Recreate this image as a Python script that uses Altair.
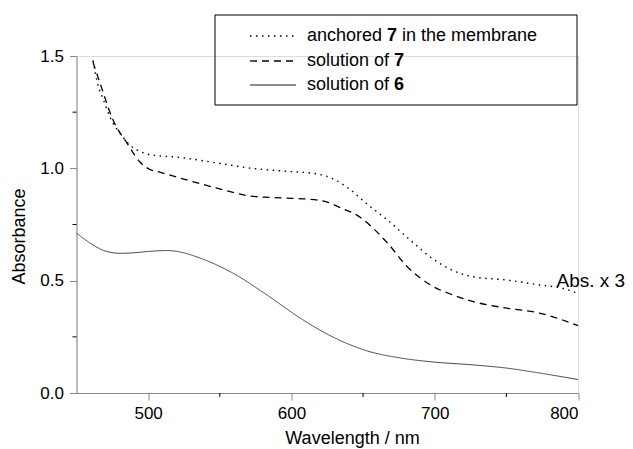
import altair as alt
import pandas as pd

FONT = "Liberation Sans"

# ---- data ----
anch_wl = [461.5, 465, 468.5, 473.4, 482.4, 487, 492, 498, 505, 520, 548, 571, 594, 618, 630, 640, 653, 667, 683, 697, 712, 728, 750, 773, 790, 800]
anch_ab = [1.48, 1.37, 1.31, 1.228, 1.139, 1.105, 1.083, 1.066, 1.057, 1.05, 1.024, 1.001, 0.988, 0.975, 0.95, 0.91, 0.84, 0.77, 0.68, 0.605, 0.547, 0.516, 0.503, 0.481, 0.465, 0.443]

sol7_wl = [461.5, 466.4, 475.5, 485.2, 494.3, 501.3, 508, 520, 548, 571, 594, 611, 625, 636, 643, 667, 681, 697, 713, 728, 750, 773, 800]
sol7_ab = [1.473, 1.38, 1.215, 1.113, 1.028, 0.995, 0.983, 0.961, 0.912, 0.877, 0.868, 0.863, 0.85, 0.819, 0.801, 0.668, 0.561, 0.481, 0.436, 0.405, 0.378, 0.356, 0.300]

sol6_wl = [450, 461.5, 470, 480, 490, 500, 513, 522, 536, 559, 583, 606, 629, 653, 676, 699, 727, 750, 773, 800]
sol6_ab = [0.712, 0.659, 0.632, 0.622, 0.624, 0.630, 0.634, 0.628, 0.601, 0.534, 0.436, 0.334, 0.249, 0.187, 0.156, 0.138, 0.125, 0.111, 0.089, 0.060]

x_major = [500, 600, 700, 800]
x_minor = [550, 650, 750]
y_major = [0.0, 0.5, 1.0, 1.5]
y_minor = [0.25, 0.75, 1.25]

annot_text = ["Abs. x 3"]
annot_wl = [785]
annot_ab = [0.50]

W, H = 501.5, 337

xs = alt.Scale(domain=[450, 800], nice=False, zero=False)
ys = alt.Scale(domain=[0, 1.5], nice=False, zero=False)

def curve(wl, ab, dash, width, color="black"):
    df = pd.DataFrame({"wl": wl, "ab": ab})
    m = alt.Chart(df).mark_line(color=color, strokeWidth=width, interpolate="monotone",
                                strokeDash=dash if dash else [1, 0])
    return m.encode(
        x=alt.X("wl:Q", scale=xs, axis=alt.Axis(
            title="Wavelength / nm", values=x_major, format="d", ticks=True, tickSize=7,
            labelPadding=5, titleX=275.5, titleY=45, titleBaseline="middle",
            titleFontSize=18, titleFontWeight="normal", labelFontSize=17,
            grid=False)),
        y=alt.Y("ab:Q", scale=ys, axis=alt.Axis(
            title="Absorbance", values=y_major, format=".1f", ticks=True, tickSize=7,
            labelPadding=6, titleX=-57.5, titleY=180, titleBaseline="middle",
            titleAngle=270, titleFontSize=18, titleFontWeight="normal",
            labelFontSize=17, grid=False)),
    )

l_anch = curve(anch_wl, anch_ab, [1.5, 4.5], 1.4)
l_sol7 = curve(sol7_wl, sol7_ab, [7, 5], 1.3)
l_sol6 = curve(sol6_wl, sol6_ab, None, 0.9, "#333333")

minor_x = alt.Chart(pd.DataFrame({"v": x_minor})).mark_rule(color="black", strokeWidth=1).encode(
    x=alt.X("v:Q", scale=xs), y=alt.value(H), y2=alt.value(H + 4))
minor_y = alt.Chart(pd.DataFrame({"v": y_minor})).mark_rule(color="black", strokeWidth=1).encode(
    y=alt.Y("v:Q", scale=ys), x=alt.value(0), x2=alt.value(-4))

annot = alt.Chart(pd.DataFrame({"t": annot_text, "wl": annot_wl, "ab": annot_ab})).mark_text(
    align="left", baseline="middle", font=FONT, fontSize=19, color="black").encode(
    x=alt.X("wl:Q", scale=xs), y=alt.Y("ab:Q", scale=ys), text="t:N")

one = pd.DataFrame({"k": [0]})

box = alt.Chart(one).mark_rect(fill="white", fillOpacity=0, stroke="black", strokeWidth=1).encode(
    x=alt.value(138.5), x2=alt.value(500.5), y=alt.value(-41), y2=alt.value(49))

rows_y = [-20, 5, 29]
dashes = [[1.5, 4.5], [7, 5], [1, 0]]
widths = [1.4, 1.3, 0.9]
leg_lines = []
for yy, d, w in zip(rows_y, dashes, widths):
    leg_lines.append(alt.Chart(one).mark_rule(color="black", strokeWidth=w, strokeDash=d).encode(
        x=alt.value(173.5), x2=alt.value(219.5), y=alt.value(yy)))

# legend label segments: (text, x, y, weight)
leg_text = [
    ("anchored", 230.5, -20, "normal"),
    ("7", 310.5, -20, "bold"),
    ("in the membrane", 325.5, -20, "normal"),
    ("solution of", 230.5, 5, "normal"),
    ("7", 317.5, 5, "bold"),
    ("solution of", 230.5, 29, "normal"),
    ("6", 317.5, 29, "bold"),
]
leg_texts = []
for t, xx, yy, wt in leg_text:
    leg_texts.append(alt.Chart(one).mark_text(
        align="left", baseline="middle", font=FONT, fontSize=18, fontWeight=wt,
        color="black", text=t).encode(x=alt.value(xx), y=alt.value(yy)))

chart = alt.layer(
    l_anch, l_sol7, l_sol6, minor_x, minor_y, annot, box, *leg_lines, *leg_texts
).properties(
    width=W, height=H,
    autosize=alt.AutoSizeParams(type="none"),
    padding={"left": 68.5, "top": 48, "right": 47, "bottom": 56},
).configure_view(stroke=None).configure_axis(
    domainColor="black", tickColor="black", labelColor="black", titleColor="black",
    labelFont=FONT, titleFont=FONT, domainWidth=1, tickWidth=1,
).configure(background="white")

chart.save("out.html", embed_options={"renderer": "svg", "actions": False})
